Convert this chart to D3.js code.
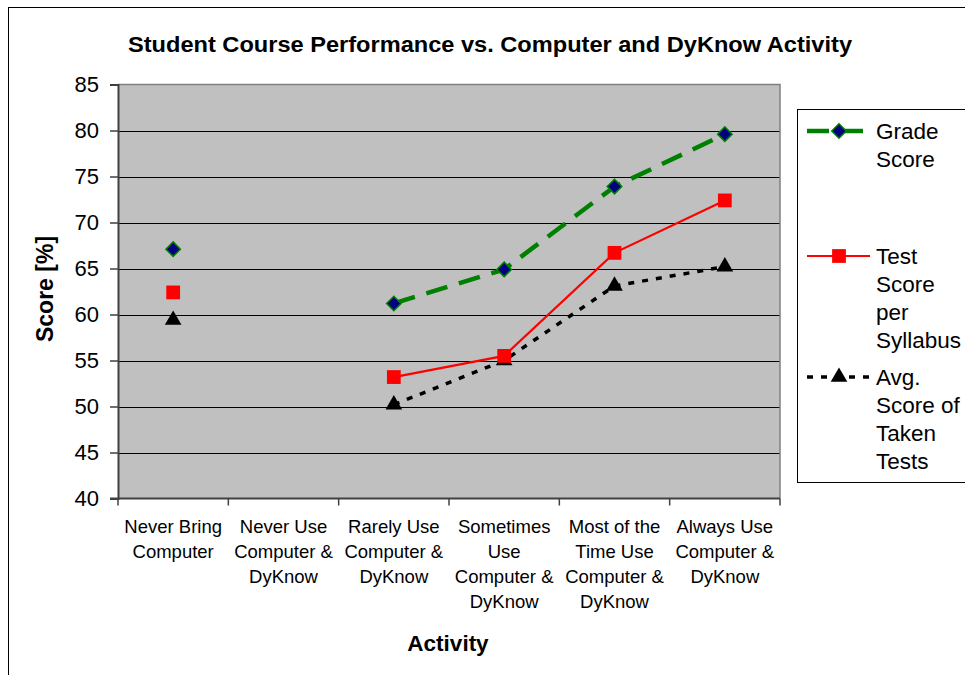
<!DOCTYPE html>
<html>
<head>
<meta charset="utf-8">
<script src="https://cdn.jsdelivr.net/npm/d3@7"></script>
<style>
  body { margin: 0; background: #fff; }
  svg { display: block; font-family: "Liberation Sans", Arial, sans-serif; }
</style>
</head>
<body>
<div id="chart"></div>
<script>
const categories = [
  ["Never Bring", "Computer"],
  ["Never Use", "Computer &", "DyKnow"],
  ["Rarely Use", "Computer &", "DyKnow"],
  ["Sometimes", "Use", "Computer &", "DyKnow"],
  ["Most of the", "Time Use", "Computer &", "DyKnow"],
  ["Always Use", "Computer &", "DyKnow"]
];
const gradeScore = [67.1, null, 61.2, 64.9, 73.9, 79.6];
const testScore = [62.4, null, 53.2, 55.5, 66.7, 72.4];
const avgScore = [59.4, null, 50.2, 55.0, 63.1, 65.2];
const yTicks = [40, 45, 50, 55, 60, 65, 70, 75, 80, 85];

const W = 965, H = 675;
const plot = {left: 118, top: 84.5, right: 780, bottom: 498.5};

const svg = d3.select("#chart").append("svg")
  .attr("width", W).attr("height", H);

// outer chart border
svg.append("rect")
  .attr("x", 8.5).attr("y", 7.5)
  .attr("width", W + 20).attr("height", H + 20)
  .attr("fill", "#fff").attr("stroke", "#000").attr("stroke-width", 1);

const x = d3.scaleBand().domain(d3.range(categories.length))
  .range([plot.left, plot.right]).padding(0);
const y = d3.scaleLinear().domain([40, 85]).range([plot.bottom, plot.top]);

// plot area
svg.append("rect")
  .attr("x", plot.left).attr("y", plot.top)
  .attr("width", plot.right - plot.left).attr("height", plot.bottom - plot.top)
  .attr("fill", "#c0c0c0");

// grid lines
svg.append("g").selectAll("line")
  .data(yTicks.filter(t => t > 40 && t < 85))
  .join("line")
  .attr("x1", plot.left).attr("x2", plot.right)
  .attr("y1", d => Math.round(y(d)) + 0.5).attr("y2", d => Math.round(y(d)) + 0.5)
  .attr("stroke", "#000").attr("stroke-width", 1);

// plot border top/right
svg.append("path")
  .attr("d", `M${plot.left},${plot.top}H${plot.right}V${plot.bottom}`)
  .attr("fill", "none").attr("stroke", "#808080").attr("stroke-width", 1.5);

// y axis
const yAxis = svg.append("g")
  .attr("transform", `translate(${plot.left},0)`)
  .call(d3.axisLeft(y).tickValues(yTicks).tickSize(8).tickPadding(11));
yAxis.select(".domain").attr("stroke", "#404040").attr("stroke-width", 2);
yAxis.selectAll(".tick line").attr("stroke", "#404040").attr("stroke-width", 1.5);
yAxis.selectAll("text").attr("font-size", 22).attr("fill", "#000")
  .attr("font-family", "Liberation Sans, Arial, sans-serif");

// x axis
const xAxisG = svg.append("g")
  .attr("transform", `translate(0,${plot.bottom})`);
xAxisG.append("line")
  .attr("x1", plot.left - 8).attr("x2", plot.right)
  .attr("stroke", "#404040").attr("stroke-width", 2);
xAxisG.selectAll(".xt")
  .data(d3.range(categories.length + 1))
  .join("line")
  .attr("class", "xt")
  .attr("x1", i => i < categories.length ? x(i) : plot.right)
  .attr("x2", i => i < categories.length ? x(i) : plot.right)
  .attr("y1", 0).attr("y2", 7)
  .attr("stroke", "#404040").attr("stroke-width", 1.5);

const catLabels = xAxisG.selectAll(".cat")
  .data(categories)
  .join("text")
  .attr("class", "cat")
  .attr("text-anchor", "middle")
  .attr("font-size", 18.5)
  .attr("x", (d, i) => x(i) + x.bandwidth() / 2)
  .attr("y", 34);
catLabels.selectAll("tspan")
  .data(d => d)
  .join("tspan")
  .attr("x", function() { return d3.select(this.parentNode).attr("x"); })
  .attr("dy", (d, i) => i === 0 ? 0 : 25)
  .text(d => d);

// titles
svg.append("text")
  .attr("x", 490).attr("y", 52)
  .attr("text-anchor", "middle")
  .attr("font-size", 22).attr("font-weight", "bold")
  .attr("textLength", 724).attr("lengthAdjust", "spacingAndGlyphs")
  .text("Student Course Performance vs. Computer and DyKnow Activity");

svg.append("text")
  .attr("x", 448).attr("y", 651)
  .attr("text-anchor", "middle")
  .attr("font-size", 22.5).attr("font-weight", "bold")
  .text("Activity");

svg.append("text")
  .attr("transform", "translate(53,289) rotate(-90)")
  .attr("text-anchor", "middle")
  .attr("font-size", 23).attr("font-weight", "bold")
  .text("Score [%]");

// series
const cx = i => x(i) + x.bandwidth() / 2;
const line = d3.line()
  .defined(d => d != null)
  .x((d, i) => cx(i))
  .y(d => y(d));

const series = [
  {name: ["Grade", "Score"], values: gradeScore, color: "#008000", width: 4.5,
   dash: "22,12", symbol: d3.symbolSquare, rot: 45, size: 105, fill: "#000080", stroke: "#008000", legendY: 131},
  {name: ["Test", "Score", "per", "Syllabus"], values: testScore, color: "#ff0000", width: 2.2,
   dash: null, symbol: d3.symbolSquare, rot: 0, size: 190, fill: "#ff0000", stroke: "none", legendY: 256},
  {name: ["Avg.", "Score of", "Taken", "Tests"], values: avgScore, color: "#000", width: 3.5,
   dash: "6,8", symbol: d3.symbolTriangle, rot: 0, size: 120, fill: "#000", stroke: "none", legendY: 377}
];

// draw series in reverse so grade is on top
series.slice().reverse().forEach(s => {
  svg.append("path")
    .datum(s.values)
    .attr("d", line)
    .attr("fill", "none")
    .attr("stroke", s.color)
    .attr("stroke-width", s.width)
    .attr("stroke-dasharray", s.dash);
  svg.append("g").selectAll("path")
    .data(s.values.map((v, i) => ({v, i})).filter(d => d.v != null))
    .join("path")
    .attr("transform", d => `translate(${cx(d.i)},${y(d.v)}) rotate(${s.rot})`)
    .attr("d", d3.symbol().type(s.symbol).size(s.size))
    .attr("fill", s.fill)
    .attr("stroke", s.stroke)
    .attr("stroke-width", 1.5);
});

// legend
svg.append("rect")
  .attr("x", 797.5).attr("y", 109.5)
  .attr("width", 200).attr("height", 373)
  .attr("fill", "#fff").attr("stroke", "#000").attr("stroke-width", 1);

series.forEach(s => {
  const g = svg.append("g").attr("transform", `translate(0,${s.legendY})`);
  g.append("line")
    .attr("x1", 807).attr("x2", 870)
    .attr("stroke", s.color)
    .attr("stroke-width", s.width)
    .attr("stroke-dasharray", s.dash);
  g.append("path")
    .attr("transform", `translate(839,0) rotate(${s.rot})`)
    .attr("d", d3.symbol().type(s.symbol).size(s.size))
    .attr("fill", s.fill)
    .attr("stroke", s.stroke)
    .attr("stroke-width", 1.5);
  const t = g.append("text").attr("font-size", 22.5).attr("x", 876).attr("y", 8);
  t.selectAll("tspan")
    .data(s.name)
    .join("tspan")
    .attr("x", 876)
    .attr("dy", (d, i) => i === 0 ? 0 : 28)
    .text(d => d);
});
</script>
</body>
</html>
